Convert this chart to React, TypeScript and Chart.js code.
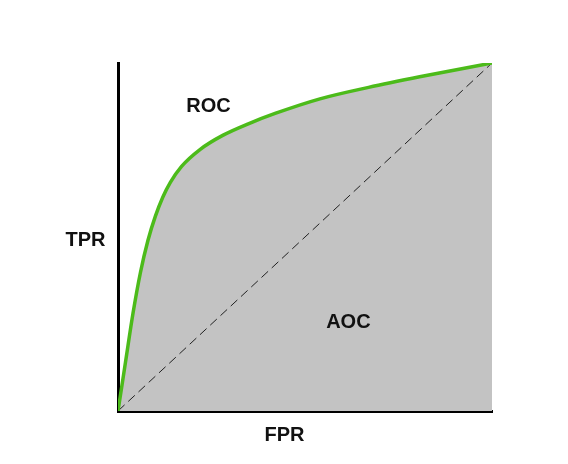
import React, { useEffect, useRef } from "react";
import { Chart, registerables } from "chart.js";

Chart.register(...registerables);

// ROC curve (false positive rate vs true positive rate)
const fpr = [0, 0.02, 0.04, 0.06, 0.08, 0.1, 0.12, 0.14, 0.17, 0.22, 0.28, 0.35, 0.42, 0.54, 0.67, 0.81, 1];
const tpr = [0, 0.14, 0.28, 0.398, 0.49, 0.56, 0.615, 0.657, 0.703, 0.752, 0.792, 0.826, 0.855, 0.897, 0.93, 0.961, 1];

// chance diagonal
const diagX = [0, 1];
const diagY = [0, 1];

// text labels placed in data coordinates
const labelTexts = ["ROC", "TPR", "AOC", "FPR"];
const labelX = [0.242, -0.087, 0.616, 0.445];
const labelY = [0.875, 0.491, 0.254, -0.069];

const labelPlugin = {
  id: "rocLabels",
  afterDatasetsDraw(chart: any) {
    const { ctx, scales } = chart;
    ctx.save();
    ctx.font = "bold 20px 'Liberation Sans', Arial, sans-serif";
    ctx.fillStyle = "#111";
    ctx.textAlign = "center";
    ctx.textBaseline = "middle";
    labelTexts.forEach((t, i) => {
      const px = scales.x.getPixelForValue(labelX[i]);
      const py = scales.y.getPixelForValue(labelY[i]);
      ctx.fillText(t, px, py);
    });
    ctx.restore();
  },
};

export default function App() {
  const ref = useRef<HTMLCanvasElement | null>(null);
  useEffect(() => {
    if (!ref.current) return;
    const chart = new Chart(ref.current, {
      type: "line",
      data: {
        datasets: [
          {
            data: fpr.map((x, i) => ({ x, y: tpr[i] })),
            borderColor: "#4cbb1a",
            borderWidth: 3.5,
            backgroundColor: "#c3c3c3",
            fill: "origin",
            pointRadius: 0,
            cubicInterpolationMode: "monotone",
            order: 0,
          },
          {
            data: diagX.map((x, i) => ({ x, y: diagY[i] })),
            borderColor: "#222",
            borderWidth: 1,
            borderDash: [9, 5],
            pointRadius: 0,
            fill: false,
            order: 1,
          },
        ],
      },
      options: {
        animation: false,
        responsive: false,
        events: [],
        layout: { padding: { left: 118, top: 63, right: 76, bottom: 53 } },
        plugins: {
          legend: { display: false },
          tooltip: { enabled: false },
          filler: { drawTime: "beforeDatasetsDraw" },
        },
        scales: {
          x: {
            type: "linear",
            min: 0,
            max: 1,
            grid: { display: false, drawTicks: false },
            ticks: { display: false },
            border: { display: true, color: "#000", width: 3 },
          },
          y: {
            type: "linear",
            min: 0,
            max: 1,
            grid: { display: false, drawTicks: false },
            ticks: { display: false },
            border: { display: true, color: "#000", width: 3 },
          },
        },
      } as any,
      plugins: [labelPlugin],
    });
    return () => chart.destroy();
  }, []);
  return (
    <div style={{ position: "absolute", left: 0, top: 0, width: 568, height: 464, background: "#fff" }}>
      <canvas ref={ref} width={568} height={464} style={{ display: "block" }} />
    </div>
  );
}
